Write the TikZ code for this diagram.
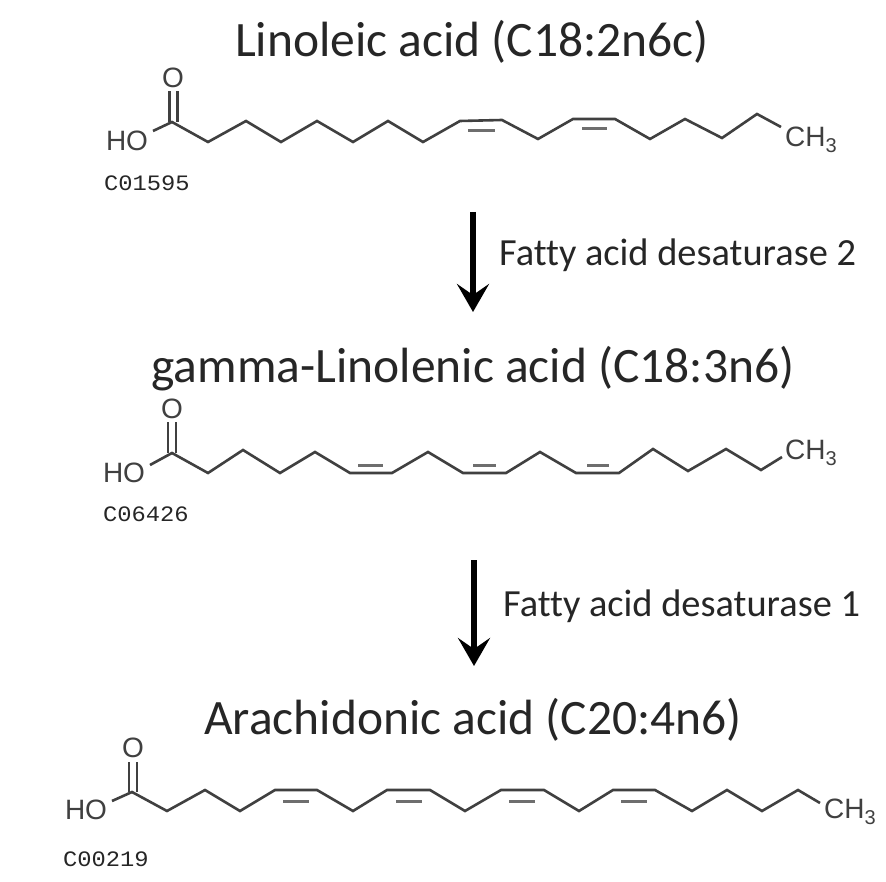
\documentclass[tikz,border=0pt]{standalone}
\usepackage{fontspec}
\setmainfont[RawFeature={-liga}]{Carlito}
\newfontfamily\chemfont{Liberation Sans}
\newfontfamily\codefont{Liberation Mono}
\usetikzlibrary{arrows.meta}
\definecolor{ink}{HTML}{262626}
\definecolor{bond}{HTML}{404040}
\definecolor{paleb}{HTML}{6E6E6E}
\tikzset{
  titletext/.style={inner sep=0pt,text=ink,font=\fontsize{49.5}{54}\selectfont},
  enzyme/.style={inner sep=0pt,anchor=west,text=ink,font=\fontsize{38.4}{42}\selectfont},
  atom/.style={inner sep=0pt,text=bond,font=\chemfont\fontsize{28}{30}\selectfont},
  code/.style={inner sep=0pt,anchor=west,text=black!85,xscale=1.08,font=\codefont\fontsize{22}{24}\selectfont},
  chain/.style={draw=bond,line width=2.6pt,line join=miter},
  inner/.style={draw=bond,line width=2.6pt},
  palebond/.style={draw=paleb,line width=3pt},
  reaction/.style={draw=black,line width=5.5pt,-{Stealth[length=28pt,width=32pt,inset=11pt]}}
}
\begin{document}
\begin{tikzpicture}[x=1pt,y=-1pt]
\useasboundingbox[fill=white] (0,0) rectangle (886,882);
% titles
\node[titletext] (t1) at (472,42) {Linoleic acid (C18:2n6c)};
\node[titletext] (t2) at (473,369) {gamma-Linolenic acid (C18:3n6)};
\node[titletext] (t3) at (473,720) {Arachidonic acid (C20:4n6)};
% reactions
\coordinate (a1s) at (473,212); \coordinate (a1e) at (473,312);
\coordinate (a2s) at (474,560); \coordinate (a2e) at (474,666);
\draw[reaction] (a1s) -- (a1e);
\draw[reaction] (a2s) -- (a2e);
\node[enzyme] (e1) at (499,255) {Fatty acid desaturase 2};
\node[enzyme] (e2) at (503,606) {Fatty acid desaturase 1};
% molecule 1
\node[atom] (o1) at (173,78) {O};
\node[atom] (ho1) at (127,141) {HO};
\node[atom,anchor=west] (ch1) at (785,140) {CH\textsubscript{\fontsize{20}{20}\selectfont 3}};
\node[code] (c1) at (104,183) {C01595};
\draw[chain] (153,131) -- (172,122) -- (208,142) -- (246,121) -- (281,142) -- (317,121) -- (353,142) -- (388,121) -- (423,142) -- (460,121) -- (502,120) -- (538,139) -- (573,119) -- (615,119) -- (650,139) -- (685,119) -- (722,138) -- (757,114) -- (781,127);
\draw[inner] (169.5,122) -- (169.5,91) (177.5,122) -- (177.5,91);
\draw[palebond] (468,131) -- (495,131) (582,129) -- (607,129);
% molecule 2
\node[atom] (o2) at (172,409) {O};
\node[atom] (ho2) at (124,473) {HO};
\node[atom,anchor=west] (ch2) at (785,453) {CH\textsubscript{\fontsize{20}{20}\selectfont 3}};
\node[code] (c2) at (103,514) {C06426};
\draw[chain] (150,465) -- (172,453) -- (208,473) -- (243,450) -- (280,473) -- (315,452) -- (350,473) -- (392,473) -- (428,452) -- (463,473) -- (506,473) -- (540,452) -- (576,473) -- (619,473) -- (653,449) -- (688,471) -- (726,449) -- (761,470) -- (782,457);
\draw[inner] (168,453) -- (168,422) (176,453) -- (176,422);
\draw[palebond] (358,465) -- (383,465) (473,465) -- (496,465) (587,465) -- (609,465);
% molecule 3
\node[atom] (o3) at (133,748) {O};
\node[atom] (ho3) at (86,810) {HO};
\node[atom,anchor=west] (ch3) at (824,812) {CH\textsubscript{\fontsize{20}{20}\selectfont 3}};
\node[code] (c3) at (63,859) {C00219};
\draw[chain] (112,801) -- (132,792) -- (167,811) -- (205,790) -- (240,811) -- (275,790) -- (317,790) -- (353,811) -- (387,790) -- (430,790) -- (465,811) -- (501,790) -- (544,790) -- (579,811) -- (613,790) -- (655,790) -- (692,811) -- (727,790) -- (762,811) -- (798,790) -- (820,803);
\draw[inner] (129,792) -- (129,762) (137,792) -- (137,762);
\draw[palebond] (283,801) -- (309,801) (396,801) -- (422,801) (509,801) -- (535,801) (621,801) -- (647,801);
\end{tikzpicture}
\end{document}
